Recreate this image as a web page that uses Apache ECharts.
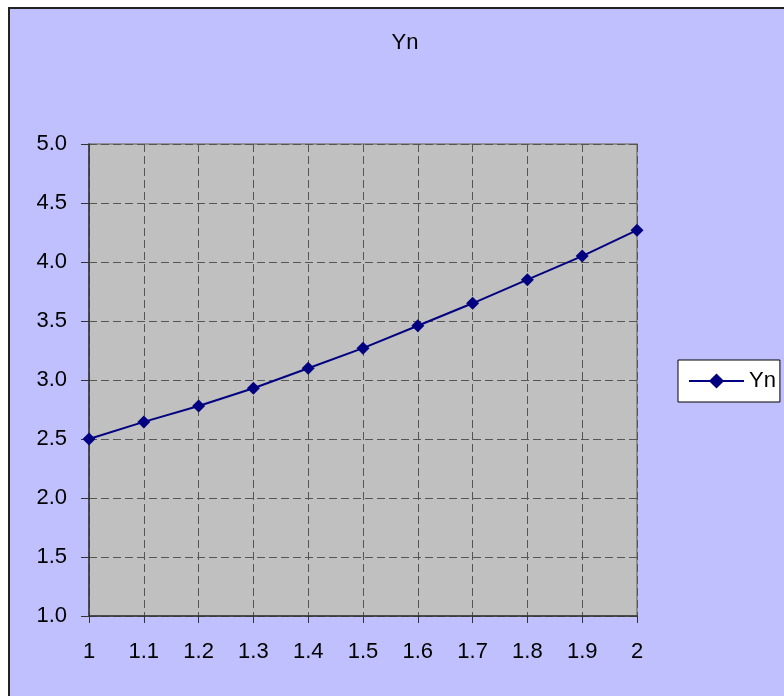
<!DOCTYPE html>
<html>
<head>
<meta charset="utf-8">
<script src="https://cdn.jsdelivr.net/npm/echarts@6/dist/echarts.min.js"></script>
<style>
html,body{margin:0;padding:0;background:#ffffff;overflow:hidden;}
#bg{position:absolute;left:8px;top:7px;width:900px;height:900px;background:#C0C0FF;border-left:2px solid #222;border-top:2px solid #222;}
#chart{position:absolute;left:0;top:0;width:784px;height:696px;}
</style>
</head>
<body>
<div id="bg"></div>
<div id="chart"></div>
<script>
var categories = ['1','1.1','1.2','1.3','1.4','1.5','1.6','1.7','1.8','1.9','2'];
var ynValues = [2.50, 2.645, 2.78, 2.93, 3.10, 3.27, 3.46, 3.65, 3.85, 4.05, 4.27];
var seriesName = 'Yn';
var yMin = 1.0, yMax = 5.0, yInterval = 0.5;

var chart = echarts.init(document.getElementById('chart'), null, {renderer:'canvas'});
var font = '"Liberation Sans", Arial, sans-serif';
chart.setOption({
  backgroundColor: 'transparent',
  animation: false,
  title: {
    text: 'Yn', left: 400, top: 27, textAlign: 'center',
    textStyle: {fontFamily: font, fontSize: 22, fontWeight: 'normal', color: '#000'}
  },
  legend: {
    show: true, orient: 'vertical', left: 678, top: 360,
    backgroundColor: '#ffffff', borderColor: '#000', borderWidth: 1,
    padding: [10, 4, 10, 10],
    itemWidth: 55, itemHeight: 19,
    textStyle: {fontFamily: font, fontSize: 22, color: '#000'},
    data: [seriesName]
  },
  grid: {
    left: 89, right: 147, top: 144, bottom: 80,
    show: true, backgroundColor: '#C0C0C0', borderColor: '#808080', borderWidth: 1.5
  },
  xAxis: {
    type: 'category', data: categories, boundaryGap: false,
    axisLine: {show: true, lineStyle: {color: '#333', width: 1.5}},
    axisTick: {show: true, length: 7, inside: false, lineStyle: {color: '#333'}},
    axisLabel: {fontFamily: font, fontSize: 22, color: '#000', margin: 25},
    splitLine: {show: true, lineStyle: {color: '#555', type: [8, 4], width: 1}}
  },
  yAxis: {
    type: 'value', min: yMin, max: yMax, interval: yInterval,
    axisLine: {show: true, lineStyle: {color: '#333', width: 1.5}},
    axisTick: {show: true, length: 8, lineStyle: {color: '#333'}},
    axisLabel: {fontFamily: font, fontSize: 22, color: '#000', margin: 22,
      formatter: function(v){ return v.toFixed(1); }},
    splitLine: {show: true, lineStyle: {color: '#555', type: [8, 4], width: 1}}
  },
  series: [{
    name: seriesName, type: 'line', data: ynValues,
    symbol: 'diamond', symbolSize: 13, showSymbol: true,
    lineStyle: {color: '#000080', width: 2},
    itemStyle: {color: '#000080'}
  }]
});
</script>
</body>
</html>
